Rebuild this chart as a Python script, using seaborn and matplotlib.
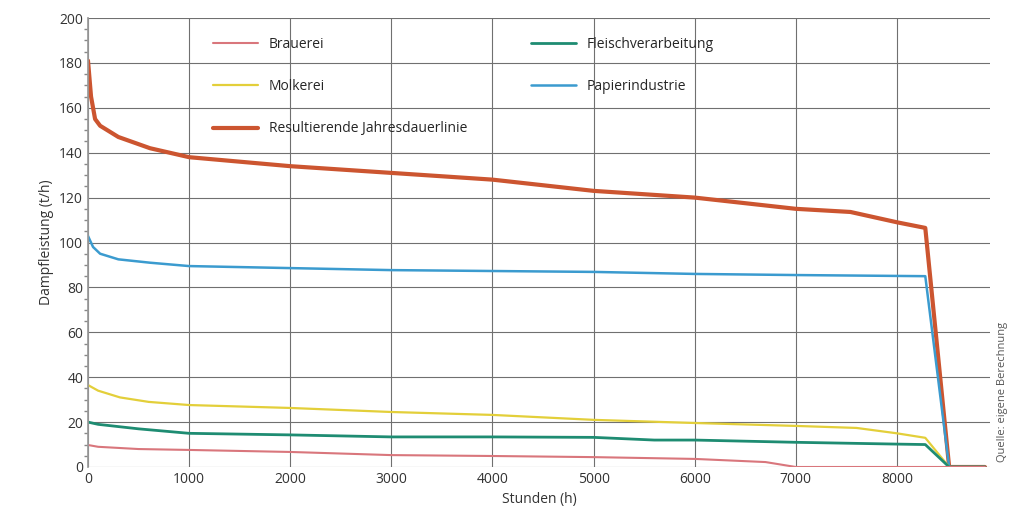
import numpy as np
import pandas as pd
import matplotlib
matplotlib.use("Agg")
import matplotlib.pyplot as plt
import seaborn as sb

# Stunden (h) und Dampfleistung (t/h)
h_brauerei = [0, 100, 500, 1000, 2000, 3000, 4000, 5000, 6000, 6700, 7000, 8516, 8870]
v_brauerei = [9.8, 9.0, 8.0, 7.6, 6.7, 5.3, 4.9, 4.4, 3.6, 2.2, 0, 0, 0]

h_molkerei = [0, 100, 316, 600, 1000, 2000, 3000, 4000, 5000, 6000, 7000, 7600, 8000, 8280, 8516, 8870]
v_molkerei = [36.5, 34.0, 31.0, 29.0, 27.6, 26.3, 24.5, 23.2, 21.0, 19.6, 18.3, 17.4, 15.0, 13.0, 0, 0]

h_fleisch = [0, 100, 500, 1000, 2000, 3000, 4000, 5000, 5600, 6000, 7000, 8000, 8280, 8516, 8870]
v_fleisch = [20.0, 19.0, 17.0, 15.0, 14.3, 13.4, 13.4, 13.2, 12.0, 12.0, 11.0, 10.2, 10.0, 0, 0]

h_papier = [0, 50, 120, 300, 613, 1000, 2000, 3000, 4000, 5000, 6000, 7000, 8280, 8516, 8870]
v_papier = [102.9, 98.0, 95.0, 92.5, 91.0, 89.5, 88.6, 87.7, 87.3, 86.9, 86.0, 85.5, 85.0, 0, 0]

h_result = [0, 30, 70, 120, 300, 613, 1000, 2000, 3000, 4000, 5000, 6000, 7000, 7540, 8000, 8280, 8516, 8870]
v_result = [181.0, 165.0, 155.0, 152.0, 147.0, 142.0, 138.0, 134.0, 131.0, 128.0, 123.0, 120.0, 115.0, 113.6, 109.0, 106.5, 0, 0]

x_ticks = [0, 1000, 2000, 3000, 4000, 5000, 6000, 7000, 8000]
y_ticks = [0, 20, 40, 60, 80, 100, 120, 140, 160, 180, 200]

sb.set_theme(style="white")
plt.rcParams['font.family'] = ['Open Sans', 'DejaVu Sans']

series = [
    ("Brauerei", h_brauerei, v_brauerei, "#d9767c", 1.5),
    ("Molkerei", h_molkerei, v_molkerei, "#e3cf3a", 1.6),
    ("Resultierende Jahresdauerlinie", h_result, v_result, "#cc5530", 3.0),
    ("Fleischverarbeitung", h_fleisch, v_fleisch, "#1e8c72", 2.0),
    ("Papierindustrie", h_papier, v_papier, "#3b9bcf", 1.8),
]

fig = plt.figure(figsize=(10.11, 5.22), dpi=100)
ax = fig.add_axes([88/1011, 1 - 467/522, (990 - 88)/1011, (467 - 18)/522])

# thick total line first, the others drawn over it
draw_order = ["Resultierende Jahresdauerlinie", "Papierindustrie", "Molkerei", "Fleischverarbeitung", "Brauerei"]
for name in draw_order:
    for lab, hx, vy, col, lw in series:
        if lab != name:
            continue
        df = pd.DataFrame({"h": hx, "v": vy})
        sb.lineplot(data=df, x="h", y="v", ax=ax, color=col, linewidth=lw, label=lab)

ax.set_xlim(0, 8920)
ax.set_ylim(0, 200)
ax.set_xticks(x_ticks)
ax.set_yticks(y_ticks)
ax.set_yticks(np.arange(0, 201, 5), minor=True)
ax.tick_params(axis="y", which="minor", length=3, color="#888888", left=True)
ax.tick_params(axis="both", which="major", labelsize=10, colors="#333333", length=0)
ax.grid(True, which="major", color="#707070", linewidth=0.8)
for s in ["top", "right", "bottom"]:
    ax.spines[s].set_visible(False)
ax.spines["left"].set_color("#999999")
ax.set_xlabel("Stunden (h)", fontsize=10, color="#333333")
ax.set_ylabel("Dampfleistung (t/h)", fontsize=10, color="#333333")

hl, ll = ax.get_legend_handles_labels()
order = [lab for lab, *_ in series]
hl_sorted = [hl[ll.index(o)] for o in order]
ax.legend(hl_sorted, order, ncol=2, loc="upper left", bbox_to_anchor=(0.125, 0.985),
          frameon=False, fontsize=10, labelspacing=1.95, columnspacing=4.6,
          handlelength=3.2, handletextpad=0.8)

fig.text(0.992, 0.25, "Quelle: eigene Berechnung", rotation=90, fontsize=8,
         color="#555555", ha="center", va="center")

fig.savefig("out.png", dpi=100)
